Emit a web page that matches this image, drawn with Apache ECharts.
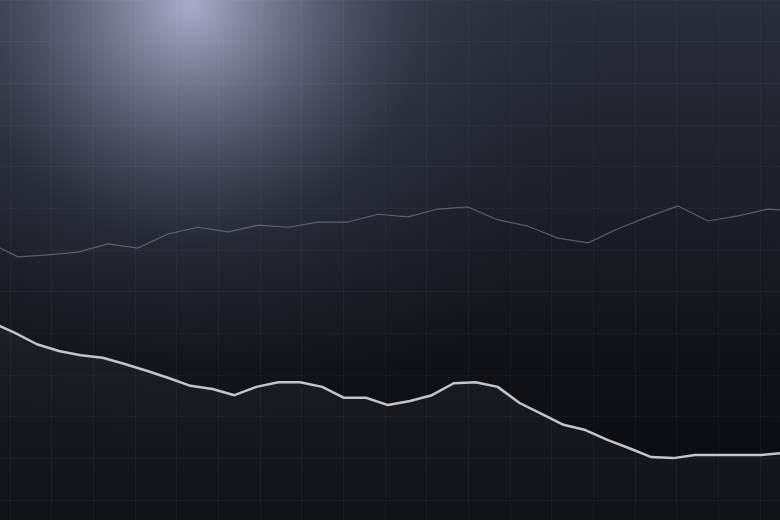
<!DOCTYPE html>
<html>
<head>
<meta charset="utf-8">
<script src="https://cdn.jsdelivr.net/npm/echarts@6/dist/echarts.min.js"></script>
<style>
html,body{margin:0;padding:0;background:#0c0d12;}
#chart{width:780px;height:520px;}
</style>
</head>
<body>
<div id="chart"></div>
<script>
// Upper (thin) series: 28 points, x = index
const upperCategories = Array.from({length: 28}, (_, i) => i);
const upperValues = [53.5, 50.6, 51.0, 51.5, 53.1, 52.3, 55.0, 56.3, 55.4, 56.7, 56.3, 57.3, 57.3, 58.8,
  58.3, 59.8, 60.2, 57.7, 56.5, 54.2, 53.3, 56.0, 58.3, 60.4, 57.5, 58.5, 59.8, 59.4];

// Lower (bright, filled) series: 37 points, x = index
const lowerCategories = Array.from({length: 37}, (_, i) => i);
const lowerValues = [37.9, 36.0, 33.8, 32.5, 31.7, 31.2, 30.0, 28.7, 27.3, 25.8, 25.2, 24.0, 25.6, 26.5,
  26.5, 25.6, 23.5, 23.5, 22.1, 22.9, 24.0, 26.3, 26.5, 25.6, 22.5, 20.4, 18.3, 17.3, 15.4, 13.8,
  12.1, 11.9, 12.5, 12.5, 12.5, 12.5, 12.9];

const upperData = upperCategories.map((c, i) => [c, upperValues[i]]);
const lowerData = lowerCategories.map((c, i) => [c, lowerValues[i]]);

const chart = echarts.init(document.getElementById('chart'), null, {renderer: 'canvas'});

const hiddenAxis = {
  show: true,
  axisLine: {show: false},
  axisTick: {show: false},
  axisLabel: {show: false},
  splitLine: {show: false}
};
const gridLineStyle = {show: true, lineStyle: {color: 'rgba(255,255,255,0.035)', width: 1}};

chart.setOption({
  animation: false,
  backgroundColor: {
    type: 'linear', x: 0, y: 0, x2: 0, y2: 1,
    colorStops: [
      {offset: 0, color: '#2a2d3a'},
      {offset: 0.4, color: '#1c1e28'},
      {offset: 0.7, color: '#111218'},
      {offset: 1, color: '#090a0e'}
    ]
  },
  graphic: [{
    type: 'rect',
    z: -10,
    silent: true,
    shape: {x: 0, y: 0, width: 780, height: 520},
    style: {
      fill: {
        type: 'radial', x: 190, y: 5, r: 430, global: true,
        colorStops: [
          {offset: 0, color: 'rgba(185,190,222,0.88)'},
          {offset: 0.25, color: 'rgba(150,155,185,0.55)'},
          {offset: 0.55, color: 'rgba(90,95,120,0.2)'},
          {offset: 1, color: 'rgba(40,44,60,0)'}
        ]
      }
    }
  }],
  grid: [
    {left: 0, width: 780, top: 0, height: 520},
    {left: 0, width: 780, top: 0, height: 520},
    {left: 10, width: 750, top: 0, height: 520},
    {left: 0, width: 780, top: 0, height: 500}
  ],
  xAxis: [
    Object.assign({}, hiddenAxis, {type: 'value', gridIndex: 0, min: 0.4, max: 26.4}),
    Object.assign({}, hiddenAxis, {type: 'value', gridIndex: 1, min: 0.3163, max: 35.868}),
    Object.assign({}, hiddenAxis, {type: 'value', gridIndex: 2, min: 0, max: 18, interval: 1, splitLine: gridLineStyle}),
    Object.assign({}, hiddenAxis, {type: 'value', gridIndex: 3, min: 0, max: 1})
  ],
  yAxis: [
    Object.assign({}, hiddenAxis, {type: 'value', gridIndex: 0, min: 0, max: 100}),
    Object.assign({}, hiddenAxis, {type: 'value', gridIndex: 1, min: 0, max: 100}),
    Object.assign({}, hiddenAxis, {type: 'value', gridIndex: 2, min: 0, max: 1}),
    Object.assign({}, hiddenAxis, {type: 'value', gridIndex: 3, min: 0, max: 12, interval: 1, splitLine: gridLineStyle})
  ],
  series: [
    {
      type: 'line', xAxisIndex: 0, yAxisIndex: 0, data: upperData,
      symbol: 'none', smooth: false, clip: true,
      lineStyle: {color: 'rgba(150,155,175,0.5)', width: 1.2}
    },
    {
      type: 'line', xAxisIndex: 1, yAxisIndex: 1, data: lowerData,
      symbol: 'none', smooth: false, clip: true,
      lineStyle: {color: '#c4c5cd', width: 2.5},
      areaStyle: {color: 'rgba(255,255,255,0.055)'}
    }
  ]
});
</script>
</body>
</html>
